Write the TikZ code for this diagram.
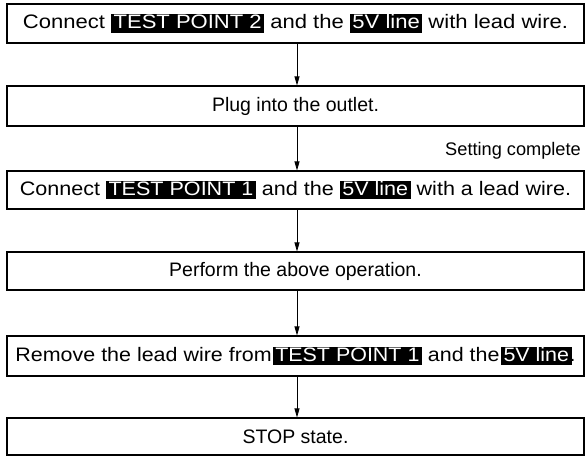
\documentclass[tikz,border=0pt]{standalone}
\usepackage{fontspec}
\setmainfont{Liberation Sans}
\newfontfamily\wideA[FakeStretch=1.13]{Liberation Sans}
\newfontfamily\wideB[FakeStretch=1.105]{Liberation Sans}
\newfontfamily\wideC[FakeStretch=1.10]{Liberation Sans}
\usetikzlibrary{arrows.meta}
\newcommand\hlbox[1]{{\setlength\fboxsep{0pt}\colorbox{black}{\rule[-4pt]{0pt}{18.5pt}\hspace{2.5pt}\textcolor{white}{#1}\hspace{2.5pt}}}}
\begin{document}
\begin{tikzpicture}[x=1pt,y=1pt,
  stepbox/.style={draw, line width=1.1pt, minimum width=577pt, inner sep=0pt, font=\fontsize{19.5}{23}\selectfont},
  flow/.style={line width=0.8pt, -{Triangle[width=5pt,length=9pt]}}]
\useasboundingbox (0,0) rectangle (585,-457);
\node[stepbox, minimum height=39pt] (b1) at (295.5,-23.5) {\wideA Connect \hlbox{TEST POINT 2} and the \hlbox{5V line} with lead wire.};
\node[stepbox, minimum height=40pt] (b2) at (295.5,-106) {Plug into the outlet.};
\node[stepbox, minimum height=38pt] (b3) at (295.5,-190) {\wideB Connect \hlbox{TEST POINT 1} and the \hlbox{5V line} with a lead wire.};
\node[stepbox, minimum height=38pt] (b4) at (295.5,-271) {Perform the above operation.};
\node[stepbox, minimum height=40pt] (b5) at (295.5,-356) {\wideC Remove the lead wire from\hspace{1pt}\hlbox{TEST POINT 1} and the\hspace{1.5pt}\hlbox{5V line}\kern-2pt.};
\node[stepbox, minimum height=37pt] (b6) at (295.5,-436.5) {STOP state.};
\node[anchor=east, inner sep=0pt, font=\fontsize{18.2}{22}\selectfont] (lbl) at (581,-151) {Setting complete};
\foreach \a/\b in {b1/b2,b2/b3,b3/b4,b4/b5,b5/b6}
  \draw[flow] ([xshift=1.5pt]\a.south) -- ([xshift=1.5pt]\b.north);
\end{tikzpicture}
\end{document}
